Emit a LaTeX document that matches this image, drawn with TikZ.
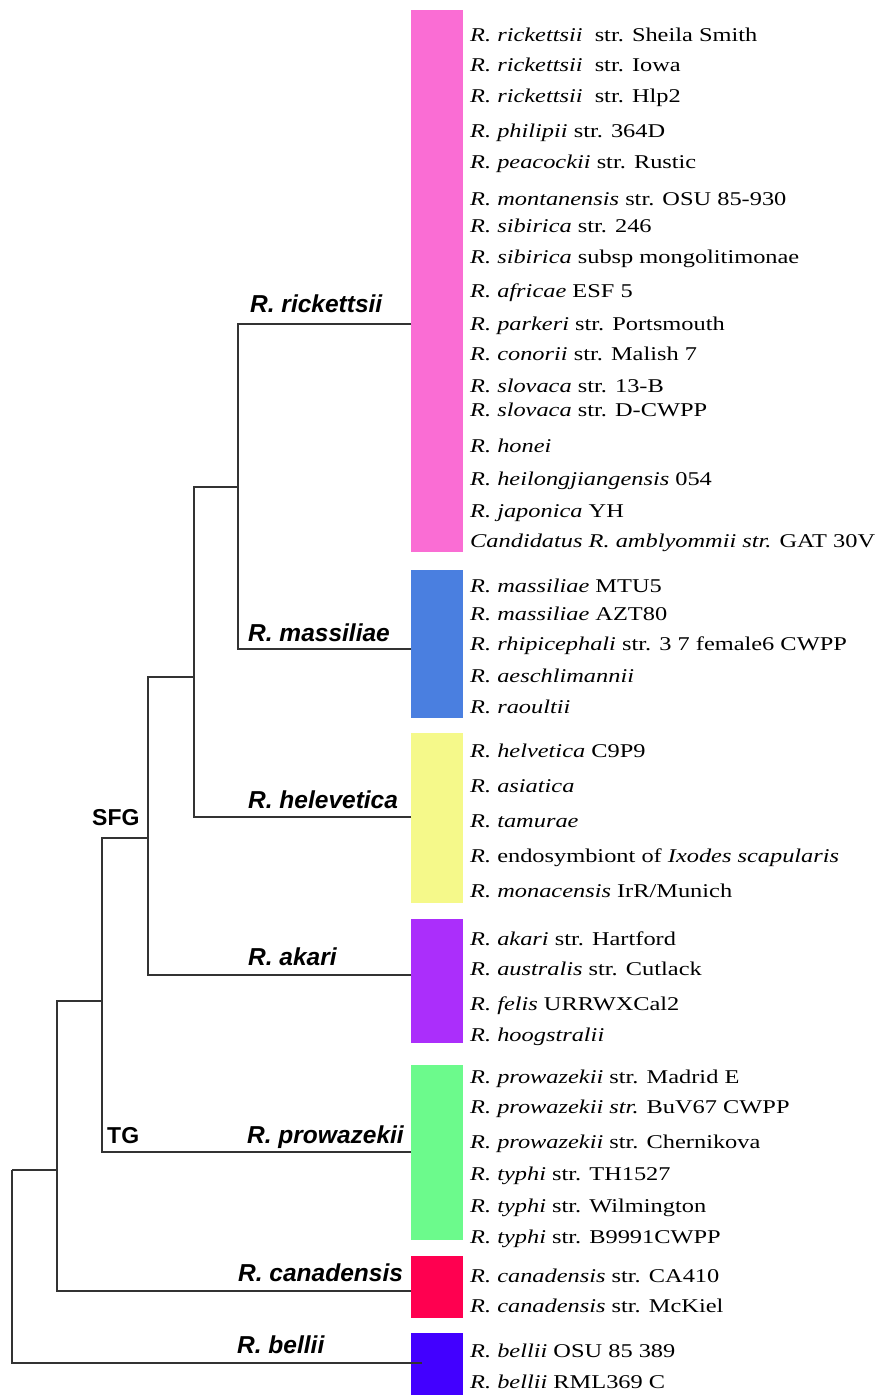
\documentclass[tikz,border=0pt]{standalone}
\usepackage{fontspec}
\setmainfont{Liberation Serif}
\newfontfamily\tnrfam[FakeStretch=1.25]{Liberation Serif}
\newfontfamily\arfam{Liberation Sans}
\newcommand\tnr{\tnrfam\fontsize{19.5}{21}\selectfont}
\newcommand\arbi{\arfam\fontsize{24.5}{26}\selectfont\bfseries\itshape}
\newcommand\arb{\arfam\fontsize{23}{25}\selectfont\bfseries}
\definecolor{cPink}{HTML}{FA6DD4}
\definecolor{cBlue}{HTML}{4A7FE0}
\definecolor{cYellow}{HTML}{F5F98A}
\definecolor{cPurple}{HTML}{AB2EFB}
\definecolor{cGreen}{HTML}{6CFA8C}
\definecolor{cRed}{HTML}{FF0050}
\definecolor{cDark}{HTML}{4200FF}
\tikzset{
  spc/.style={anchor=base west, inner sep=0pt, font=\tnr},
  clade/.style={anchor=base west, inner sep=0pt, font=\arbi},
  grp/.style={anchor=base west, inner sep=0pt, font=\arb},
  bar/.style={draw=none, inner sep=0pt, minimum width=52pt, anchor=north west},
  br/.style={draw=black!80, line width=1.3pt}
}
\begin{document}
\begin{tikzpicture}[x=1pt,y=-1pt]
\useasboundingbox (0,0) rectangle (880,1395);
% colour bars
\node[bar, fill=cPink,   minimum height=542pt] (bPink)   at (411,10)   {};
\node[bar, fill=cBlue,   minimum height=148pt] (bBlue)   at (411,570)  {};
\node[bar, fill=cYellow, minimum height=170pt] (bYellow) at (411,733)  {};
\node[bar, fill=cPurple, minimum height=124pt] (bPurple) at (411,919)  {};
\node[bar, fill=cGreen,  minimum height=175pt] (bGreen)  at (411,1065) {};
\node[bar, fill=cRed,    minimum height=62pt]  (bRed)    at (411,1256) {};
\node[bar, fill=cDark,   minimum height=62pt]  (bDark)   at (411,1333) {};
% leaves (branch ends)
\coordinate (lRic) at (411,324);
\coordinate (lMas) at (411,649);
\coordinate (lHel) at (411,817);
\coordinate (lAka) at (411,975);
\coordinate (lPro) at (411,1152);
\coordinate (lCan) at (411,1291);
\coordinate (lBel) at (422,1363);
% internal nodes
\coordinate (nR)   at (238,487);
\coordinate (nH)   at (194,677);
\coordinate (nS)   at (148,838);
\coordinate (nST)  at (102,1001);
\coordinate (nC)   at (57,1170);
\coordinate (nRoot) at (12,1170);
% branches
\draw[br] (lRic) -| (nR);
\draw[br] (lMas) -| (nR);
\draw[br] (nR) -| (nH);
\draw[br] (lHel) -| (nH);
\draw[br] (nH) -| (nS);
\draw[br] (lAka) -| (nS);
\draw[br] (nS) -| (nST);
\draw[br] (lPro) -| (nST);
\draw[br] (nST) -| (nC);
\draw[br] (lCan) -| (nC);
\draw[br] (nC) -| (nRoot);
\draw[br] (lBel) -| (nRoot);
% clade labels
\node[clade] (cRic) at (250,312)  {R. rickettsii};
\node[clade] (cMas) at (248,641)  {R. massiliae};
\node[clade] (cHel) at (248,808)  {R. helevetica};
\node[clade] (cAka) at (248,965)  {R. akari};
\node[clade] (cPro) at (247,1143) {R. prowazekii};
\node[clade] (cCan) at (238,1281) {R. canadensis};
\node[clade] (cBel) at (237,1353) {R. bellii};
\node[grp] (gSFG) at (92,825)  {SFG};
\node[grp] (gTG)  at (107,1143) {TG};
% species lists
\node[spc] (t1)  at (470,41)   {\textit{R. rickettsii}\ \ str. Sheila Smith};
\node[spc] (t2)  at (470,71)   {\textit{R. rickettsii}\ \ str. Iowa};
\node[spc] (t3)  at (470,102)  {\textit{R. rickettsii}\ \ str. Hlp2};
\node[spc] (t4)  at (470,137)  {\textit{R. philipii} str. 364D};
\node[spc] (t5)  at (470,168)  {\textit{R. peacockii} str. Rustic};
\node[spc] (t6)  at (470,205)  {\textit{R. montanensis} str. OSU 85-930};
\node[spc] (t7)  at (470,232)  {\textit{R. sibirica} str. 246};
\node[spc] (t8)  at (470,263)  {\textit{R. sibirica} subsp mongolitimonae};
\node[spc] (t9)  at (470,297)  {\textit{R. africae} ESF 5};
\node[spc] (t10) at (470,330)  {\textit{R. parkeri} str. Portsmouth};
\node[spc] (t11) at (470,360)  {\textit{R. conorii} str. Malish 7};
\node[spc] (t12) at (470,392)  {\textit{R. slovaca} str. 13-B};
\node[spc] (t13) at (470,416)  {\textit{R. slovaca} str. D-CWPP};
\node[spc] (t14) at (470,452)  {\textit{R. honei}};
\node[spc] (t15) at (470,485)  {\textit{R. heilongjiangensis} 054};
\node[spc] (t16) at (470,517)  {\textit{R. japonica} YH};
\node[spc] (t17) at (470,547)  {\textit{Candidatus R. amblyommii str.} GAT 30V};
\node[spc] (t18) at (470,592)  {\textit{R. massiliae} MTU5};
\node[spc] (t19) at (470,620)  {\textit{R. massiliae} AZT80};
\node[spc] (t20) at (470,650)  {\textit{R. rhipicephali} str. 3 7 female6 CWPP};
\node[spc] (t21) at (470,682)  {\textit{R. aeschlimannii}};
\node[spc] (t22) at (470,713)  {\textit{R. raoultii}};
\node[spc] (t23) at (470,757)  {\textit{R. helvetica} C9P9};
\node[spc] (t24) at (470,792)  {\textit{R. asiatica}};
\node[spc] (t25) at (470,827)  {\textit{R. tamurae}};
\node[spc] (t26) at (470,862)  {\textit{R.} endosymbiont of \textit{Ixodes scapularis}};
\node[spc] (t27) at (470,897)  {\textit{R. monacensis} IrR/Munich};
\node[spc] (t28) at (470,945)  {\textit{R. akari} str. Hartford};
\node[spc] (t29) at (470,975)  {\textit{R. australis} str. Cutlack};
\node[spc] (t30) at (470,1010) {\textit{R. felis} URRWXCal2};
\node[spc] (t31) at (470,1041) {\textit{R. hoogstralii}};
\node[spc] (t32) at (470,1083) {\textit{R. prowazekii} str. Madrid E};
\node[spc] (t33) at (470,1113) {\textit{R. prowazekii str.} BuV67 CWPP};
\node[spc] (t34) at (470,1148) {\textit{R. prowazekii} str. Chernikova};
\node[spc] (t35) at (470,1180) {\textit{R. typhi} str. TH1527};
\node[spc] (t36) at (470,1212) {\textit{R. typhi} str. Wilmington};
\node[spc] (t37) at (470,1243) {\textit{R. typhi} str. B9991CWPP};
\node[spc] (t38) at (470,1282) {\textit{R. canadensis} str. CA410};
\node[spc] (t39) at (470,1312) {\textit{R. canadensis} str. McKiel};
\node[spc] (t40) at (470,1357) {\textit{R. bellii} OSU 85 389};
\node[spc] (t41) at (470,1388) {\textit{R. bellii} RML369 C};
\end{tikzpicture}
\end{document}
